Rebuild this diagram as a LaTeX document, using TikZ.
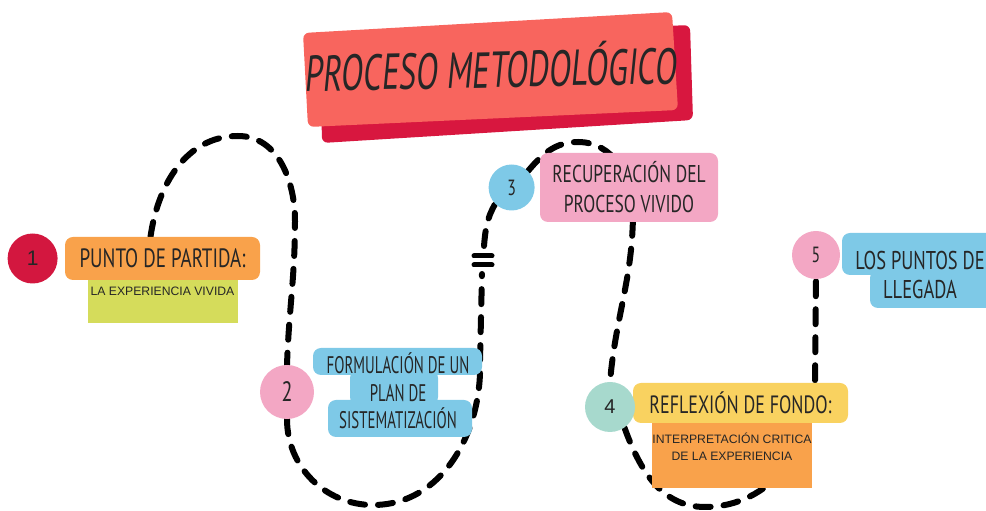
\documentclass[tikz,border=0pt]{standalone}
\usepackage{fontspec}
\setmainfont{Liberation Sans}
\newfontfamily\handfont[FakeStretch=0.72]{PT Sans}
\newfontfamily\narrowfont[FakeStretch=0.62]{PT Sans}
\newfontfamily\titlefont[FakeStretch=0.64,FakeSlant=0.12]{PT Sans}
\usetikzlibrary{positioning}
\usetikzlibrary{backgrounds}
\definecolor{titlered}{HTML}{F8655E}
\definecolor{titledark}{HTML}{D8173F}
\definecolor{crimson}{HTML}{D3173F}
\definecolor{peach}{HTML}{F9A24B}
\definecolor{lime}{HTML}{D5DC5B}
\definecolor{rosa}{HTML}{F3A7C4}
\definecolor{celeste}{HTML}{7EC9E7}
\definecolor{menta}{HTML}{A7D9CD}
\definecolor{amarillo}{HTML}{F9D260}
\definecolor{ink}{HTML}{262626}

\tikzset{
  stepnum/.style={circle, inner sep=0pt, minimum size=50pt, text=ink},
  tag/.style={rounded corners=8pt, inner sep=0pt, text=ink, align=center},
  note/.style={inner sep=0pt, text=ink, align=center, font=\fontsize{12.2}{17}\selectfont},
  route/.style={line width=6pt, line cap=round, dash pattern=on 15pt off 13pt},
}

\begin{document}
\begin{tikzpicture}[x=1pt,y=1pt]
    \useasboundingbox (0,0) rectangle (986,511);

    % title
    \fill[titledark, rounded corners=6pt] (320,470) -- (690,486) -- (693,391) -- (322,368) -- cycle;
    \fill[titlered, rounded corners=6pt] (303,478) -- (672,499) -- (678,401) -- (308,384) -- cycle;
    \node[text=ink, rotate=1.2, font=\titlefont\fontsize{50.5}{51}\selectfont] (title) at (490,445) {PROCESO METODOLÓGICO};

    % step 1
    \node[tag, fill=peach, minimum width=195pt, minimum height=43pt, font=\handfont\fontsize{26.5}{28}\selectfont] (b1) at (162.5,252.5) {PUNTO DE PARTIDA:};
    \node[stepnum, fill=crimson, left=7pt of b1, font=\fontsize{21}{21}\selectfont] (n1) {1};
    \node[fill=lime, minimum width=150pt, minimum height=43pt, below=0pt of b1,
          label={[note, anchor=north, yshift=-7pt]north:LA EXPERIENCIA VIVIDA}] (s1) {};

    % step 2
    \fill[celeste, rounded corners=8pt] (313,136) rectangle (482,163) (350,106) rectangle (438,141) (328,74) rectangle (472,111);
    \node[tag, font=\narrowfont\fontsize{24}{27.5}\selectfont] (b2) at (398,120) {FORMULACIÓN DE UN\\PLAN DE\\SISTEMATIZACIÓN};
    \node[stepnum, fill=rosa, minimum size=54pt, font=\handfont\fontsize{28}{28}\selectfont] (n2) at (287,119) {2};

    % step 3
    \node[tag, fill=rosa, minimum width=178pt, minimum height=69pt, font=\handfont\fontsize{24.3}{30}\selectfont] (b3) at (629,323.5) {RECUPERACIÓN DEL\\PROCESO VIVIDO};
    \node[stepnum, fill=celeste, minimum size=46pt, left=5pt of b3, font=\handfont\fontsize{22}{22}\selectfont] (n3) {3};

    % step 4
    \node[tag, fill=amarillo, minimum width=215pt, minimum height=40pt, font=\handfont\fontsize{25}{26}\selectfont] (b4) at (740.5,108) {REFLEXIÓN DE FONDO:};
    \node[fill=peach, minimum width=160pt, minimum height=65pt, anchor=north] (s4) at (732,88) {};
    \node[note, anchor=north] at ([yshift=-10pt]s4.north) {INTERPRETACIÓN CRITICA\\DE LA EXPERIENCIA};
    \node[stepnum, fill=menta, font=\fontsize{20}{20}\selectfont] (n4) at (610,104) {4};

    % step 5
    \fill[celeste, rounded corners=8pt] (842,236) rectangle (1000,278) (870,203) rectangle (1000,241);
    \node[tag, font=\handfont\fontsize{25.7}{29}\selectfont] (b5) at (920,235.5) {LOS PUNTOS DE\\LLEGADA};
    \node[stepnum, fill=rosa, minimum size=48pt, font=\handfont\fontsize{22}{22}\selectfont] (n5) at (816,256) {5};

    % dashed route
    \coordinate (cut1) at (482,237);
    \coordinate (cut2) at (484,265);
    \begin{scope}[on background layer]
        \draw[route] ([xshift=-12pt]b1.north) to[out=82,in=180] (238,375) to[out=0,in=90] (295,290) to[out=-90,in=88] (n2.north);
        \draw[route] (n2.south) to[out=-90,in=180] (373,6) to[out=0,in=-88] (480,150) -- (cut1);
        \draw[route] (cut2) to[out=85,in=-120] (n3.south west);
        \draw[route] (n3.north east) to[out=50,in=180] (578,369) to[out=0,in=90] (633,300) to[out=-90,in=85] (n4.north);
        \draw[route] (n4.-55) to[out=-70,in=180] (705,4) to[out=0,in=-90] (815,130) -- (n5.south);
    \end{scope}
    \draw[line width=5pt, line cap=round] (474,255) -- (492,255) (474,246) -- (492,246);
\end{tikzpicture}
\end{document}
